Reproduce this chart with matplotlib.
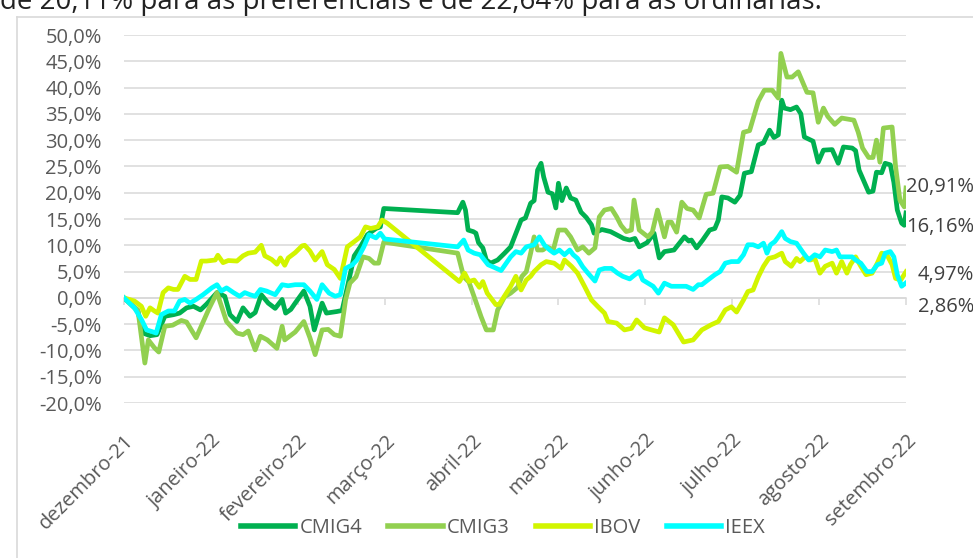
import matplotlib
matplotlib.use("Agg")
import matplotlib.pyplot as plt
from matplotlib.lines import Line2D

# x = months elapsed since the start of December 2021, y = cumulative return in %
CMIG4_X = [0.00, 0.16, 0.22, 0.30, 0.38, 0.47, 0.57, 0.64, 0.72, 0.80, 0.88, 0.95, 1.07, 1.16, 1.22,
           1.30, 1.37, 1.45, 1.51, 1.58, 1.66, 1.74, 1.82, 1.86, 1.92, 1.97, 2.07, 2.14, 2.19, 2.28,
           2.33, 2.45, 2.51, 2.57, 2.65, 2.72, 2.80, 2.90, 2.95, 2.99, 3.84, 3.90, 3.93, 3.96, 4.02,
           4.05, 4.08, 4.13, 4.17, 4.22, 4.30, 4.38, 4.45, 4.49, 4.57, 4.62, 4.68, 4.72, 4.76, 4.80,
           4.83, 4.88, 4.93, 4.97, 5.00, 5.04, 5.09, 5.14, 5.20, 5.26, 5.32, 5.38, 5.41, 5.50, 5.60,
           5.67, 5.75, 5.82, 5.88, 5.93, 6.02, 6.10, 6.16, 6.22, 6.33, 6.45, 6.50, 6.53, 6.59, 6.66,
           6.74, 6.80, 6.84, 6.88, 6.95, 7.03, 7.09, 7.14, 7.22, 7.30, 7.36, 7.43, 7.48, 7.53, 7.57,
           7.60, 7.67, 7.74, 7.79, 7.83, 7.93, 7.99, 8.05, 8.15, 8.22, 8.28, 8.38, 8.42, 8.46, 8.52,
           8.57, 8.62, 8.66, 8.72, 8.76, 8.82, 8.86, 8.90, 8.95, 8.98, 9.00]
CMIG4_Y = [0.0, -2.5, -6.7, -7.2, -7.0, -3.5, -3.2, -2.9, -1.9, -1.6, -2.3, -1.2, 1.0, 0.3, -3.2,
           -4.5, -1.9, -3.5, -2.8, 0.6, -1.0, -2.0, -0.3, -2.9, -2.2, -1.0, 1.3, -1.6, -6.1, -1.0,
           -2.9, -2.6, -2.4, 2.0, 8.0, 9.7, 12.0, 13.2, 13.5, 17.0, 16.2, 18.2, 16.7, 12.9, 12.6,
           12.3, 10.5, 9.5, 7.2, 6.6, 7.2, 8.5, 9.7, 11.4, 14.8, 15.2, 18.0, 18.5, 24.3, 25.6,
           23.0, 20.1, 19.8, 17.1, 21.8, 18.5, 20.9, 19.0, 18.6, 16.3, 15.3, 13.9, 12.3, 13.0, 12.6,
           12.0, 11.3, 11.0, 11.3, 9.7, 10.5, 12.3, 7.6, 8.8, 9.1, 11.6, 10.8, 11.0, 9.5, 11.0,
           12.9, 13.2, 14.8, 19.2, 19.0, 18.2, 19.5, 23.7, 24.0, 29.1, 29.5, 31.9, 30.5, 31.0, 37.6,
           36.1, 35.8, 36.3, 35.0, 30.6, 29.8, 25.8, 28.1, 28.2, 25.6, 28.7, 28.5, 28.0, 24.3, 22.0,
           20.1, 20.3, 23.9, 23.8, 25.6, 25.3, 22.0, 16.7, 14.2, 13.8, 16.16]

CMIG3_X = [0.00, 0.16, 0.24, 0.28, 0.35, 0.40, 0.47, 0.56, 0.66, 0.72, 0.83, 0.91, 0.98, 1.07, 1.18,
           1.30, 1.37, 1.43, 1.51, 1.57, 1.65, 1.76, 1.82, 1.85, 1.97, 2.07, 2.14, 2.20, 2.28, 2.35,
           2.42, 2.49, 2.55, 2.60, 2.67, 2.75, 2.82, 2.88, 2.93, 2.99, 3.84, 3.91, 3.97, 4.03, 4.11,
           4.17, 4.25, 4.30, 4.38, 4.45, 4.53, 4.58, 4.63, 4.68, 4.72, 4.76, 4.82, 4.87, 4.94, 5.00,
           5.08, 5.14, 5.22, 5.28, 5.35, 5.42, 5.47, 5.53, 5.61, 5.67, 5.72, 5.78, 5.84, 5.87, 5.93,
           6.03, 6.08, 6.14, 6.18, 6.22, 6.26, 6.30, 6.36, 6.42, 6.48, 6.55, 6.62, 6.70, 6.78, 6.86,
           6.95, 7.05, 7.13, 7.20, 7.30, 7.37, 7.46, 7.53, 7.56, 7.63, 7.69, 7.76, 7.86, 7.93, 7.99,
           8.05, 8.10, 8.18, 8.26, 8.40, 8.45, 8.50, 8.57, 8.62, 8.66, 8.70, 8.74, 8.84, 8.88, 8.93,
           8.98, 9.00]
CMIG3_Y = [0.0, -2.3, -12.4, -8.0, -9.5, -10.3, -5.4, -5.2, -4.3, -4.6, -7.6, -4.6, -2.0, 1.0, -4.5,
           -6.7, -7.0, -6.3, -9.9, -7.3, -8.0, -9.6, -5.4, -8.0, -6.5, -4.5, -7.6, -10.8, -6.1, -6.0,
           -7.0, -7.3, -0.4, 2.8, 4.0, 7.8, 7.5, 6.6, 6.6, 10.6, 8.5, 4.0, 3.0, 0.2, -3.6,
           -6.1, -6.1, -2.3, 0.2, 0.9, 2.0, 4.1, 5.0, 8.5, 11.6, 9.1, 9.1, 9.7, 9.1, 12.9,
           12.9, 11.6, 9.1, 9.7, 8.5, 9.5, 15.4, 16.7, 17.0, 15.4, 13.8, 12.6, 12.9, 18.6, 12.9,
           11.6, 12.5, 16.7, 14.2, 11.6, 14.4, 14.4, 12.5, 18.2, 17.0, 16.7, 15.2, 19.7, 19.9, 24.9,
           25.0, 23.9, 31.5, 31.8, 37.4, 39.5, 39.5, 38.0, 46.5, 42.0, 42.0, 43.0, 39.1, 39.0, 33.4,
           36.1, 34.5, 33.0, 34.2, 33.8, 31.5, 28.5, 26.7, 26.7, 30.0, 25.8, 32.3, 32.5, 25.0, 18.6,
           17.3, 20.91]

IBOV_X = [0.00, 0.12, 0.20, 0.25, 0.30, 0.35, 0.39, 0.45, 0.51, 0.57, 0.62, 0.70, 0.76, 0.83, 0.89,
          0.95, 1.05, 1.08, 1.14, 1.20, 1.30, 1.37, 1.43, 1.51, 1.58, 1.62, 1.70, 1.76, 1.80, 1.85,
          1.89, 1.97, 2.05, 2.08, 2.14, 2.20, 2.28, 2.34, 2.42, 2.49, 2.57, 2.65, 2.72, 2.78, 2.84,
          2.92, 2.97, 3.03, 3.86, 3.92, 3.97, 4.03, 4.09, 4.13, 4.18, 4.28, 4.32, 4.40, 4.45, 4.51,
          4.57, 4.63, 4.68, 4.72, 4.80, 4.86, 4.95, 5.03, 5.07, 5.15, 5.22, 5.30, 5.38, 5.45, 5.53,
          5.57, 5.67, 5.76, 5.84, 5.90, 5.99, 6.05, 6.16, 6.22, 6.32, 6.44, 6.55, 6.65, 6.76, 6.84,
          6.92, 6.99, 7.05, 7.13, 7.18, 7.24, 7.30, 7.36, 7.42, 7.49, 7.57, 7.61, 7.68, 7.74, 7.78,
          7.84, 7.90, 7.95, 8.01, 8.07, 8.15, 8.20, 8.26, 8.32, 8.36, 8.42, 8.48, 8.54, 8.61, 8.67,
          8.72, 8.78, 8.84, 8.88, 8.94, 9.00]
IBOV_Y = [0.0, -0.6, -1.6, -3.5, -1.9, -2.5, -2.9, 1.0, 1.9, 1.6, 1.6, 4.1, 3.5, 3.5, 7.0,
          7.0, 7.2, 8.1, 6.7, 7.1, 7.0, 8.0, 8.5, 8.7, 10.0, 8.0, 7.3, 6.4, 7.6, 6.2,
          7.6, 8.6, 9.9, 10.0, 8.9, 7.2, 8.8, 6.3, 5.4, 3.7, 9.7, 10.7, 11.6, 13.5, 13.2,
          13.5, 14.8, 14.2, 3.1, 4.7, 3.1, 3.4, 2.0, 3.1, 0.9, -1.3, -1.2, 0.9, 2.2, 4.1,
          1.5, 3.4, 4.1, 5.0, 6.3, 6.9, 6.6, 5.6, 7.2, 6.0, 4.7, 2.2, -0.4, -1.6, -2.9,
          -4.5, -4.8, -6.1, -5.8, -4.2, -5.7, -6.0, -6.5, -3.8, -5.1, -8.4, -8.0, -6.1, -5.1, -4.5,
          -2.3, -1.7, -2.7, -0.4, 1.2, 1.5, 4.0, 6.0, 7.5, 7.8, 8.5, 6.9, 6.0, 7.5, 6.9,
          7.8, 7.2, 7.5, 4.7, 6.0, 6.6, 4.7, 6.9, 4.7, 6.3, 7.8, 6.0, 4.4, 4.7, 6.6,
          8.5, 8.2, 6.3, 3.7, 3.4, 4.97]

IEEX_X = [0.00, 0.12, 0.20, 0.26, 0.32, 0.37, 0.43, 0.51, 0.58, 0.64, 0.70, 0.76, 0.83, 0.91, 1.01,
          1.07, 1.12, 1.18, 1.26, 1.33, 1.39, 1.45, 1.51, 1.57, 1.64, 1.74, 1.82, 1.89, 1.97, 2.07,
          2.14, 2.22, 2.28, 2.36, 2.43, 2.49, 2.55, 2.63, 2.68, 2.76, 2.82, 2.90, 2.95, 3.00, 3.84,
          3.91, 3.96, 4.03, 4.10, 4.19, 4.26, 4.34, 4.40, 4.45, 4.51, 4.57, 4.63, 4.72, 4.78, 4.84,
          4.90, 4.95, 5.01, 5.07, 5.13, 5.17, 5.22, 5.28, 5.34, 5.42, 5.47, 5.53, 5.61, 5.68, 5.74,
          5.82, 5.88, 5.93, 5.97, 6.03, 6.09, 6.15, 6.22, 6.30, 6.38, 6.47, 6.55, 6.61, 6.65, 6.72,
          6.80, 6.86, 6.92, 6.99, 7.07, 7.13, 7.18, 7.24, 7.30, 7.36, 7.40, 7.44, 7.49, 7.53, 7.57,
          7.61, 7.67, 7.74, 7.82, 7.88, 7.95, 8.01, 8.07, 8.15, 8.20, 8.24, 8.30, 8.38, 8.42, 8.48,
          8.55, 8.61, 8.67, 8.72, 8.76, 8.82, 8.86, 8.90, 8.95, 9.00]
IEEX_Y = [0.0, -1.9, -4.1, -6.1, -6.4, -6.7, -3.2, -2.5, -2.5, -0.6, -0.3, -1.0, -0.3, 0.6, 1.9,
          2.5, 1.3, 1.9, 1.0, 0.3, 1.0, 0.6, 0.3, 1.6, 1.3, 0.6, 2.5, 2.3, 2.5, 2.5,
          1.3, -0.3, 2.5, 0.9, 0.3, 0.6, 5.6, 6.3, 7.2, 9.7, 12.0, 11.4, 12.3, 11.2, 9.7,
          11.0, 9.1, 8.5, 8.2, 6.3, 5.8, 5.2, 6.6, 7.8, 8.8, 8.5, 9.7, 10.1, 11.6, 10.0,
          9.1, 8.5, 9.1, 8.2, 9.1, 8.2, 7.5, 5.9, 4.7, 3.2, 5.3, 5.6, 5.6, 4.7, 4.1,
          3.6, 4.4, 5.0, 3.4, 2.8, 2.2, 0.9, 2.8, 2.2, 2.2, 2.2, 1.6, 2.5, 2.5, 3.4,
          4.4, 5.0, 6.6, 6.9, 6.9, 8.2, 10.1, 10.1, 9.7, 10.4, 8.5, 10.1, 10.7, 11.6, 12.6,
          11.3, 10.7, 10.4, 8.5, 7.2, 8.2, 7.8, 9.1, 8.8, 9.1, 7.8, 7.8, 7.8, 7.2, 6.6,
          5.0, 5.0, 6.3, 6.6, 8.5, 8.8, 7.8, 4.4, 2.2, 2.86]

MONTHS = ["dezembro-21", "janeiro-22", "fevereiro-22", "março-22", "abril-22", "maio-22",
          "junho-22", "julho-22", "agosto-22", "setembro-22"]
Y_TICKS = [-20, -15, -10, -5, 0, 5, 10, 15, 20, 25, 30, 35, 40, 45, 50]

SERIES = [
    ("CMIG4", CMIG4_X, CMIG4_Y, "#00B050"),
    ("CMIG3", CMIG3_X, CMIG3_Y, "#92D050"),
    ("IBOV", IBOV_X, IBOV_Y, "#D2F500"),
    ("IEEX", IEEX_X, IEEX_Y, "#00FFFF"),
]
# end-of-line labels: pixel nudges so they don't collide (as in the source chart)
END_NUDGE = {"CMIG4": -14, "CMIG3": 1, "IBOV": -3, "IEEX": -24}

plt.rcParams["font.family"] = ["Open Sans", "DejaVu Sans"]
GREY = "#595959"
GRID = "#D9D9D9"
FS = 14.5

fig = plt.figure(figsize=(9.73, 5.58), dpi=100)
ax = fig.add_axes([124 / 973, 1 - 403 / 558, (906 - 124) / 973, (403 - 35) / 558])

for name, xs, ys, color in SERIES:
    ax.plot(xs, ys, color=color, lw=3.4, solid_joinstyle="round", label=name)
    ax.annotate(f"{ys[-1]:.2f}%".replace(".", ","), xy=(xs[-1], ys[-1]),
                xytext=(49, END_NUDGE[name] * 0.72), textcoords="offset points",
                ha="right", va="center", fontsize=FS, color="#404040", annotation_clip=False)

ax.set_xlim(0, 9)
ax.set_ylim(-20, 50)
ax.set_yticks(Y_TICKS)
ax.set_yticklabels([f"{v:.1f}%".replace(".", ",") for v in Y_TICKS])
ax.grid(axis="y", color=GRID, lw=1.1)
ax.set_axisbelow(True)
for sp in ax.spines.values():
    sp.set_visible(False)
ax.tick_params(axis="y", length=0, pad=16, labelsize=FS, labelcolor=GREY)

# month labels sit at the bottom, tick marks sit on the 0% line
ax.set_xticks(range(len(MONTHS)))
ax.set_xticklabels(MONTHS, rotation=45, ha="right", va="top", rotation_mode="anchor")
ax.tick_params(axis="x", length=0, pad=20, labelsize=FS, labelcolor=GREY)
zero_ax = ax.secondary_xaxis(20 / 70)
zero_ax.set_xticks(range(len(MONTHS)))
zero_ax.set_xticklabels([])
zero_ax.tick_params(length=5, width=1.1, color=GRID, direction="out")
zero_ax.spines["bottom"].set_color(GRID)
zero_ax.spines["bottom"].set_linewidth(1.1)

leg = fig.legend(loc="center", bbox_to_anchor=(503 / 973, 1 - 528 / 558), ncol=4, frameon=False,
                 fontsize=FS, handlelength=2.7, handletextpad=0.2, columnspacing=1.3)
for t in leg.get_texts():
    t.set_color(GREY)
for h in leg.legend_handles:
    h.set_linewidth(4.0)

# chart-area border and the clipped sentence above it
fig.add_artist(Line2D([17 / 973, 17 / 973], [0, 1 - 17 / 558], color=GRID, lw=1.2))
fig.add_artist(Line2D([17 / 973, 1], [1 - 17 / 558, 1 - 17 / 558], color=GRID, lw=1.2))
fig.text(0.0, 1 - 9 / 558, "de 20,11% para as preferenciais e de 22,64% para as ordinárias.",
         fontsize=20, color="#222222", va="baseline", ha="left")

fig.savefig("out.png", dpi=100)
